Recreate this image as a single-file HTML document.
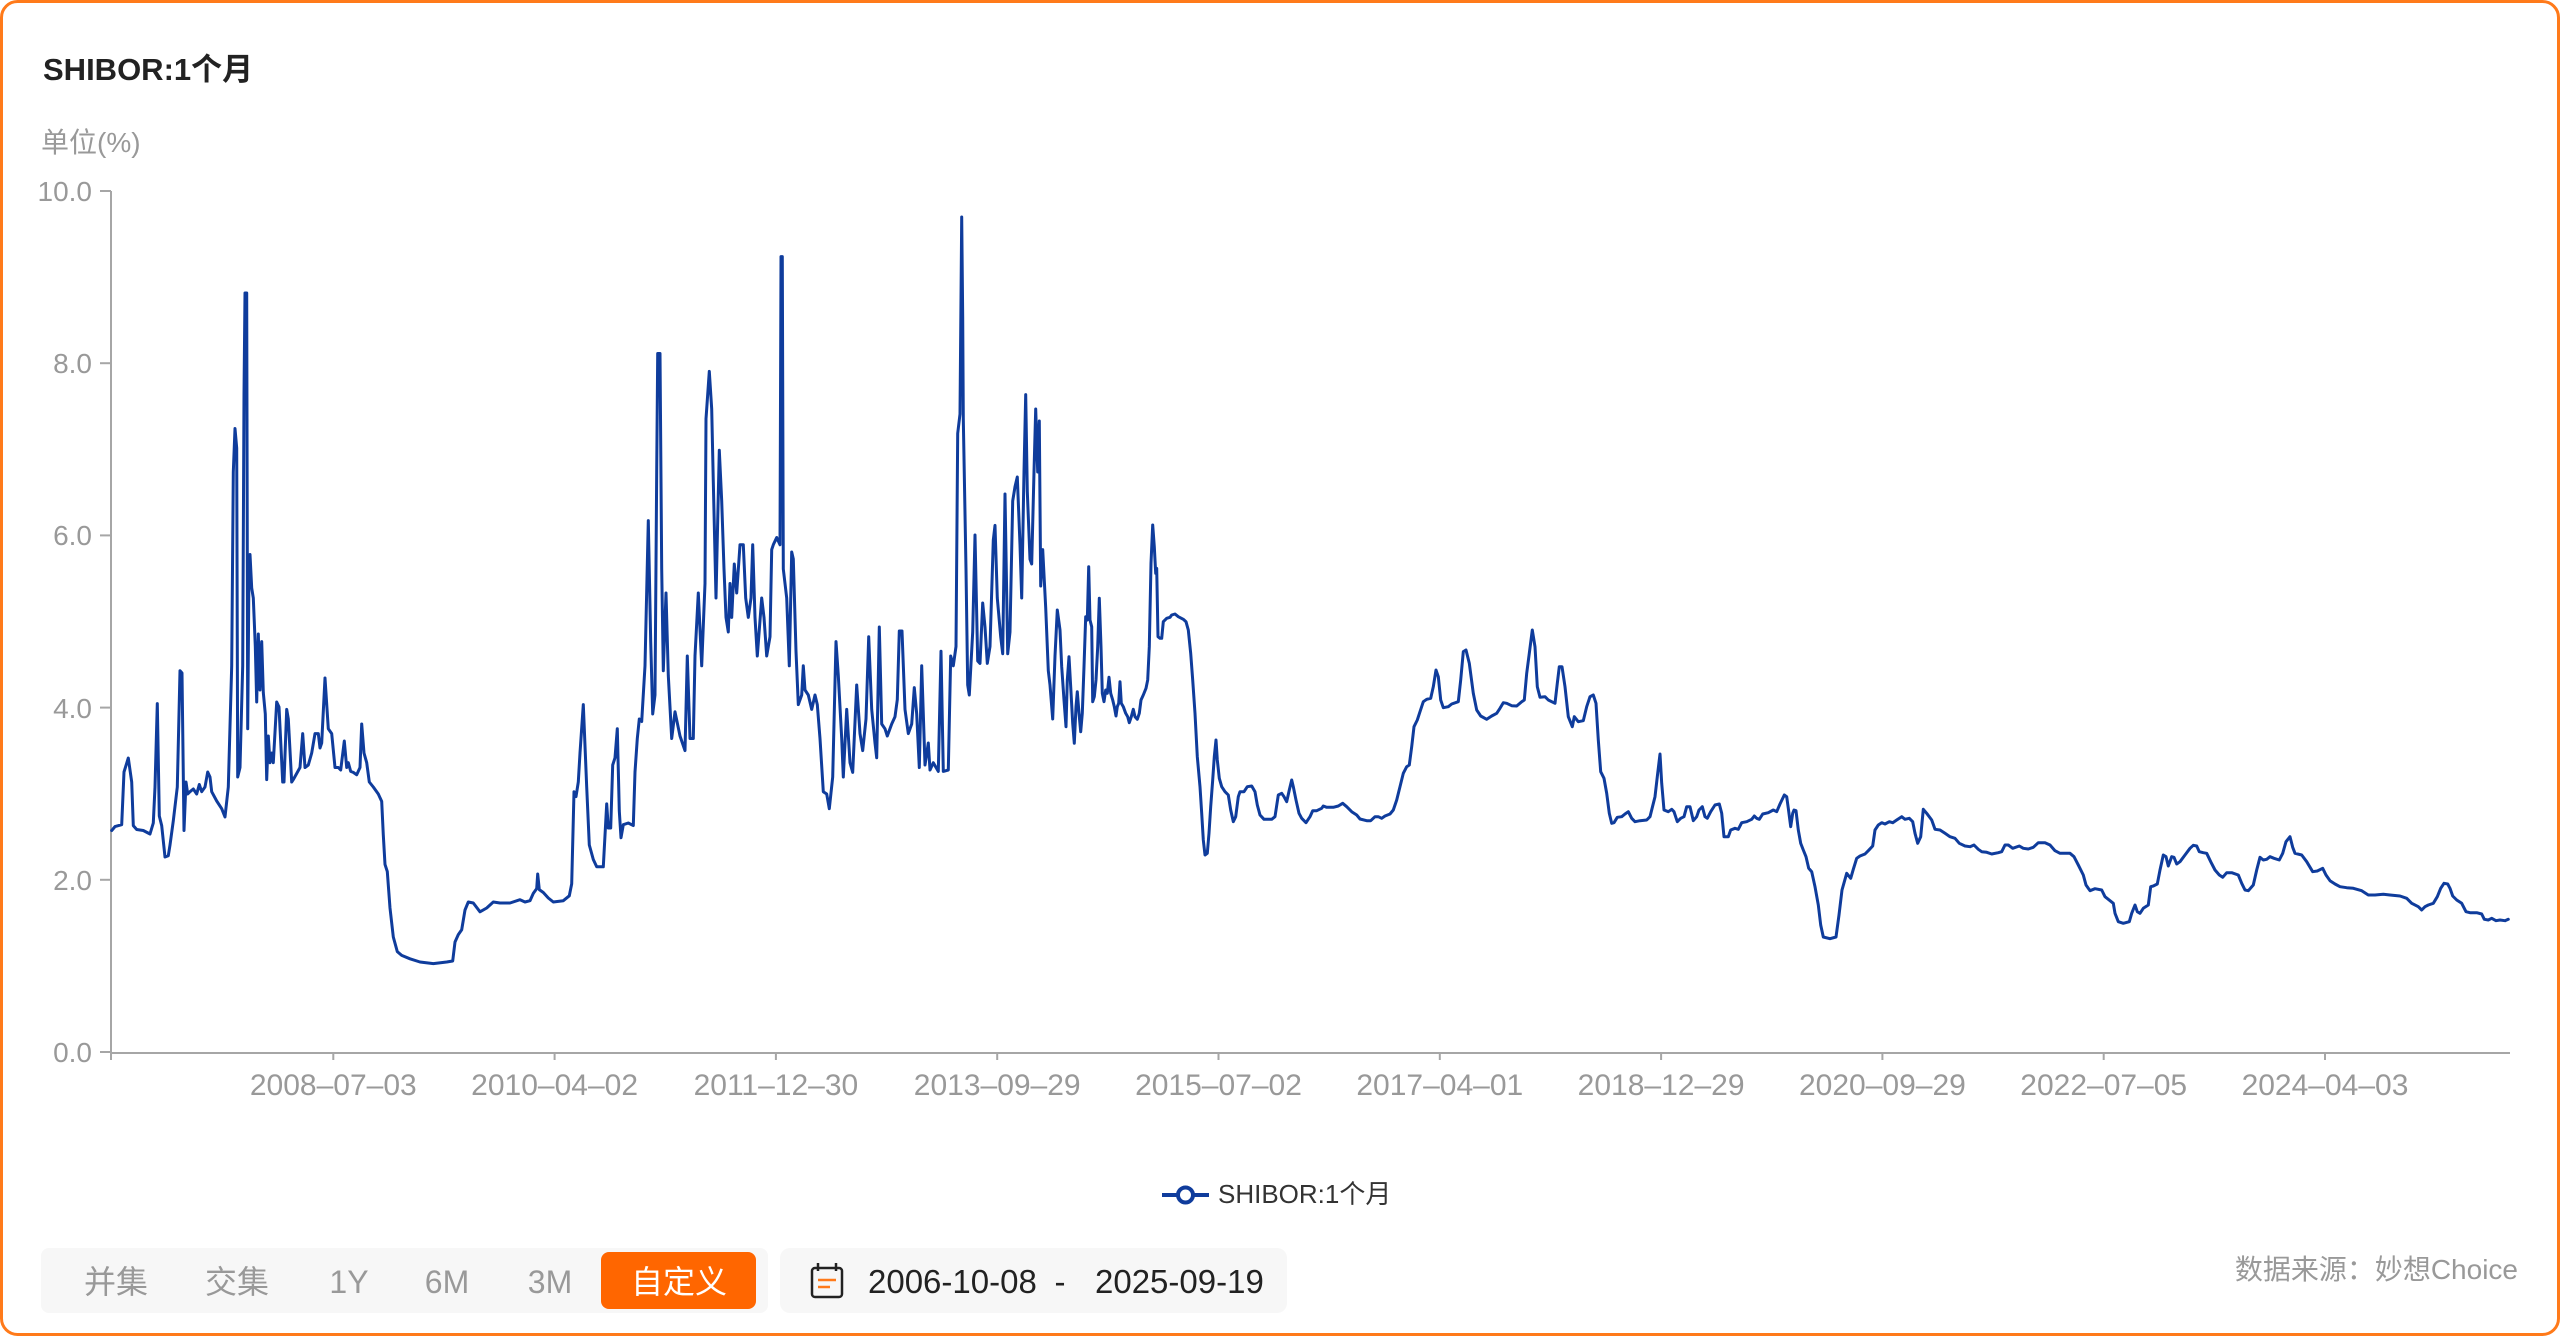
<!DOCTYPE html>
<html>
<head>
<meta charset="utf-8">
<style>
  html, body { margin: 0; padding: 0; background: #ffffff; }
  body { width: 2560px; height: 1336px; overflow: hidden; }
  svg { display: block; }
  text { font-family: "Liberation Sans", "Noto Sans CJK SC", sans-serif; }
</style>
</head>
<body>
<svg width="2560" height="1336" viewBox="0 0 2560 1336" xmlns="http://www.w3.org/2000/svg">
  <!-- outer card -->
  <rect x="1.5" y="1.5" width="2557" height="1333" rx="16" ry="16" fill="#ffffff" stroke="#ff7a1a" stroke-width="3"/>

  <!-- title -->
  <text x="43" y="80" font-size="31" font-weight="bold" fill="#222222">SHIBOR:1个月</text>
  <text x="41" y="152" font-size="28" fill="#999999">单位(%)</text>

  <!-- y axis -->
  <line x1="111" y1="191" x2="111" y2="1053" stroke="#a6a6a6" stroke-width="2"/>
  <g stroke="#a6a6a6" stroke-width="2">
    <line x1="100" y1="191" x2="111" y2="191"/>
    <line x1="100" y1="363.2" x2="111" y2="363.2"/>
    <line x1="100" y1="535.4" x2="111" y2="535.4"/>
    <line x1="100" y1="707.6" x2="111" y2="707.6"/>
    <line x1="100" y1="879.8" x2="111" y2="879.8"/>
    <line x1="100" y1="1052" x2="111" y2="1052"/>
  </g>
  <g font-size="28" fill="#999999" text-anchor="end">
    <text x="92" y="201">10.0</text>
    <text x="92" y="373">8.0</text>
    <text x="92" y="545">6.0</text>
    <text x="92" y="718">4.0</text>
    <text x="92" y="890">2.0</text>
    <text x="92" y="1062">0.0</text>
  </g>

  <!-- x axis -->
  <line x1="110" y1="1053" x2="2510" y2="1053" stroke="#a6a6a6" stroke-width="2"/>
  <g stroke="#a6a6a6" stroke-width="2">
    <line x1="111" y1="1053" x2="111" y2="1060"/>
    <line x1="333.3" y1="1053" x2="333.3" y2="1060"/>
    <line x1="554.6" y1="1053" x2="554.6" y2="1060"/>
    <line x1="775.9" y1="1053" x2="775.9" y2="1060"/>
    <line x1="997.2" y1="1053" x2="997.2" y2="1060"/>
    <line x1="1218.5" y1="1053" x2="1218.5" y2="1060"/>
    <line x1="1439.8" y1="1053" x2="1439.8" y2="1060"/>
    <line x1="1661.1" y1="1053" x2="1661.1" y2="1060"/>
    <line x1="1882.4" y1="1053" x2="1882.4" y2="1060"/>
    <line x1="2103.7" y1="1053" x2="2103.7" y2="1060"/>
    <line x1="2325" y1="1053" x2="2325" y2="1060"/>
  </g>
  <g font-size="30" fill="#999999" text-anchor="middle">
    <text x="333.3" y="1095">2008–07–03</text>
    <text x="554.6" y="1095">2010–04–02</text>
    <text x="775.9" y="1095">2011–12–30</text>
    <text x="997.2" y="1095">2013–09–29</text>
    <text x="1218.5" y="1095">2015–07–02</text>
    <text x="1439.8" y="1095">2017–04–01</text>
    <text x="1661.1" y="1095">2018–12–29</text>
    <text x="1882.4" y="1095">2020–09–29</text>
    <text x="2103.7" y="1095">2022–07–05</text>
    <text x="2325" y="1095">2024–04–03</text>
  </g>

  <!-- series -->
  <polyline fill="none" stroke="#0f3c9c" stroke-width="3" stroke-linejoin="round" stroke-linecap="round" points="
111.7,830.5 115,826.6 121.7,824.7 124,772 128.3,758 131.7,782 133.3,825.6 136.7,829.5 143.3,830.5 150,834 153.3,823 155,787 157.3,703.6 159.3,816 161.7,825.6 165,857 168.3,855.7 170,845 173.3,820.8 177.3,787 180,670.7 182,673 184,830.5 186,782 187.7,794 190,791.7 193.3,789 196.7,794 199.3,784.5 201.7,791.7 205,787 207.7,772 210,777 211.7,791.7 216.7,801 221.7,808.7 225,817 228.3,787 231.7,665.8 233.3,472 235,428.5 236.7,448 237.7,777 240,767.5 242.7,665.8 244,394.6 245,293 246.7,293 247.7,728.8 249,569 250,554.5 251.7,588 253.3,598 255.3,646.5 256.7,702 258.3,634 260,690 261.7,641.6 263.3,692.5 265.3,714 266.7,779.6 268.3,736 270,762.7 271.7,753 273.3,762.7 276.7,702 279,707 282.7,782 284,782 286.7,709.4 288.3,719 291.7,782 293.3,779.6 300,767.5 302.7,733.6 305,767.5 308.3,765 311.7,753 315,733.6 318.3,733.6 320,748 321.7,743 325,678 328.3,728.8 331.7,733.6 335,767.5 338.3,767.5 340.7,770 344.3,741 346.7,767.5 348.3,762.7 350.7,771.4 353.3,772.4 356.7,774.8 360,767.5 361.7,724 364,753 366.7,762.7 369.3,782 373.3,787 378.3,794 381.7,801.4 383.3,835 385,864.4 387.3,871.6 390,908 393.3,937 397.3,951.6 401.7,955.4 410,958.8 420,962 433.3,963.6 446.7,962 452.7,961 455,942 458.3,934.6 461.7,929.8 465,910 468.3,902 473.3,903 480,911.8 486.7,908 493.3,902 500,903 510,903 520,899.7 525,902 530,900.7 533.3,893.4 536.7,888.6 537.7,874 539.3,889.6 543.3,892.5 548.3,898 553.3,902 563.3,900.7 569.3,895.8 571.7,883.8 574,791.7 576,796.6 578.3,782 580,753
583.3,704.6 586.7,787 589.3,845 593.3,859.5 596.7,866.8 603.3,866.8 606.7,803.9 608.3,828 610.7,828 612.7,765 615,757.8 617.3,728.8 619.3,811 621,837.8 623.3,824.7 628.3,823 633.3,825.6 635,772 637.3,738.5 639.3,719 641.7,721.5 645,665.8 648.3,520.6 650.7,641.6 652.7,714 655,695 656.7,472 657.7,353.5 660,353.5 661.7,569 663.3,670.7 666,593 668.3,675.5 671.7,738.5 675,711.8 680,736 685,750.6 687.3,656 690,738.5 693.3,738.5 695,656 698.3,593 701.7,665.8 705,583.5 706,418.9 709.3,371.4 711.7,409 713.3,481.8 716,598 717.7,520.6 719.3,450.3 721.7,501 724,569 726,617.4 728.3,632 730,583.5 731.7,617.4 734.3,564 736.7,593 740,544.8 743.3,544.8 745.7,598 748.3,617.4 751,598 752.7,544.8 755,617.4 757.3,656 761.7,598 764,617.4 766.7,656 770,636.8 771.7,549.6 773.3,544.8 776.7,537.5 780,544.8 781,256.6 782.3,256.6 783.3,569 786.7,598 789.3,665.8 791.7,552 793.3,559 796,651.3 798.3,704.6 801.7,695 803.3,665.8 805,690 808.3,695 811.7,709.4 815,695 817.3,704.6 820,738.5 823.3,791.7 826.7,794 829.3,808.7 832.7,777 836,641.6 838.3,675.5 841.7,738.5 843.3,777 846.7,709.4 850,762.7 852.7,772.4 856.7,685 860,733.6 862.7,750.6 866,719 868.7,636.8 871.7,709.4 875,743 876.7,757.8 879.3,627 881.7,724 885,728.8 887.3,736 891.7,724 895,716.7 897.3,699.7 899.3,631 902,631 905,709.4 908.3,733.6 911.7,724 914.3,687.6 916.7,714 919.3,767.5 921.7,665.8 925,765 928.3,743 930,770 933.3,762.7 938.3,771.4 941,651.3 943.3,771.4 948.3,770 950.7,656 953.3,665.8 956,646.5 957.7,433.4 960,414 961.7,217 962.7,317 963.3,419 966,569 967.7,685 969.3,695 972.7,632 975,535 977.7,661 980,663.4 982.7,603 985,627 987.3,663.4 990,646.5 993.3,540 995,525.4 997.3,598 1000.7,636.8 1002.7,653.7 1005,494 1007.7,653.7 1010,632 1012.7,501 1015,486.7 1017.3,477 1020,544.8 1021.7,598 1024,472 1025.7,394.6 1027.3,491.5 1030,559.3 1031.7,564 1034,472 1035.7,409 1037.7,472 1039.3,421 1040.7,586 1042.7,549.6 1045.7,607.7 1048.3,670.7 1050,685 1052.7,719 1055,656 1057.3,610
1060,630 1061.7,666.7 1064,700 1066,726.7 1067.3,680 1069,656.7 1070.7,686.7 1072.7,723.3 1074.3,743.3 1076,706.7 1077.3,691.7 1079,713.3 1080.7,731.7 1082.3,713.3 1084,666.7 1085.7,616.7 1087.3,620 1088.7,566.7 1090,620 1091.7,626.7 1092.7,701.7 1094.3,696.7 1096,680 1097.7,646.7 1099.3,598.3 1101,646.7 1102.3,693.3 1104,701.7 1105.7,690 1107.3,693.3 1109,677.3 1110.7,693.3 1112.7,700 1114.3,706.7 1116,716 1117.3,706.7 1118.7,703.3 1120,681.7 1121.3,703.3 1123.3,706.7 1125.7,713.3 1127.7,716.7 1129.3,722.7 1131.3,716.7 1133.3,709.3 1135,716.7 1137.3,719.3 1139.3,713.3 1141,700 1143.3,695 1146,688.3 1147.7,680 1149.3,646.7 1151,563.3 1152.7,525 1154.3,546.7 1155.7,573.3 1156.7,568.3 1158,636.7 1160,638.3 1161.7,638.3 1163.3,621.7 1166.7,618.3 1170,617.3 1171.7,615 1175,614 1178.3,616.7 1183.3,619.3 1186,621.7 1188.3,630 1190.7,653.3 1192.7,680 1195,713.3 1197.3,756.7 1200,786.7 1201.7,813.3 1203.3,840 1205,855 1207.3,853.3 1209,833.3 1210.7,806.7 1212.7,780 1214.3,756.7 1216,740 1217.3,760 1219.3,778.3 1221.7,786.7 1225,791.7 1228.3,795 1230.7,810 1233.3,821.7 1235.7,816.7 1238.3,796.7 1240,791.7 1244,791.7 1247.3,786.7 1251.7,786 1255,791.7 1257.3,805 1260,815 1264,819.3 1271.7,819.3 1275,816.7 1278.3,795 1281.7,793.3 1284,796.7 1286.7,801.7 1289.3,790 1291.7,780 1293.3,786.7 1296,800 1299,813.3 1301.7,818.3 1306,822.7 1310,816.7 1312.7,810.7 1316.7,810.7 1321.7,808.3 1323.3,806 1326.7,807.3 1333.3,807.3 1338.3,806 1342.7,803.3 1346.7,806.7 1351.7,811.7 1356.7,815 1360,819 1366.7,820.7 1370.7,820.7 1375,816.7 1378.3,816.7 1381.7,818.3 1385,816 1390,814 1393.3,810 1396.7,800 1400,786.7 1403.3,773.3 1406.7,766.7 1409.3,765 1411.7,746.7 1414,726.7 1417.3,720 1420,711.7 1423.3,701.7 1426.7,699.3 1430.7,698.3 1433.3,686.7 1436,670 1438.3,676.7 1440.7,700 1443.3,707.7 1448.3,706.7 1451.7,704 1458.3,701.7 1460.7,680 1463.3,651.7 1466,650 1469.3,663.3 1473.3,693.3 1476.7,710 1480.7,716 1486.7,719.3 1491.7,716 1496.7,713.3 1500,708.3 1503.3,702.7 1506.7,703.3 1511.7,705.7 1516.7,706 1521.7,701.7 1524.3,700 1526.7,673.3 1529.3,653.3 1532.3,630 1535,646.7 1537.3,686.7 1540,697.3
1545,696.7 1548.3,700 1555,703.3 1557.3,683.3 1559.3,666.7 1562,666.7 1565,686.7 1568.3,716.7 1572.3,726.7 1574.3,716.7 1578.3,721.7 1583.3,720.7 1586.7,706.7 1590,696.7 1593.3,695 1596,703.3 1598.3,740 1600.7,771.7 1604,778.3 1606.7,793.3 1609.3,813.3 1611.7,823.3 1614,822.7 1617.3,817.3 1621.7,816.7 1625,814 1628.3,811.7 1631.7,818.3 1635,821.7 1640,820.7 1646.7,820 1650,816.7 1655,796.7 1657.3,776.7 1660,754 1661.7,783.3 1664,810 1668.3,811.7 1671.7,809.3 1674,811.7 1677.3,821.7 1680.7,818.3 1684,816.7 1686.7,806.7 1690,806.7 1693.3,820.7 1696.7,816.7 1699,810 1702.3,806.7 1705,816.7 1707.3,818.3 1710.7,811.7 1715,805 1719.3,804 1721.7,813.3 1724,836.7 1728.3,836.7 1730.7,830 1735,828.3 1738.3,829.3 1741.7,822.7 1746.7,821.7 1751.7,819.3 1754.3,816 1756.7,818.3 1759.3,819.3 1762.7,814 1768.3,812.7 1773.3,810 1776.7,811.7 1780,804 1784.3,795 1786.7,796.7 1788.3,808.3 1790.7,826.7 1792.7,813.3 1794,810 1796,810.7 1798.3,830 1800.7,843.3 1803.3,850 1806,856.7 1808.7,868.3 1811.7,871.7 1815,886.7 1818.3,905 1820.7,925 1823.3,937 1830,938.7 1836,937 1839,915 1842,890 1846.7,873.3 1850.7,878.3 1853.3,869.3 1856.7,858.3 1860,856 1865,854 1868.3,850.7 1872.7,846 1875,830 1878.3,825 1881.7,822.7 1885,824 1889.3,821.7 1892.7,822.7 1896.7,820 1901.7,816.7 1905,819.3 1909.3,818.3 1912.7,821.7 1915,833.3 1917.7,843.3 1920.7,836.7 1923.3,809.3 1926.7,813.3 1931.7,820 1935,829.3 1940,830 1945,833.3 1950,836.7 1955,838.3 1959.3,843.3 1965,846 1970,846.7 1974,845 1978.3,849.3 1981.7,851.7 1986.7,852.3 1991.7,854 1998.3,852.7 2001.7,851.7 2005,845 2008.3,845 2012.7,848.3 2019.3,846
2023.3,848.3 2028.3,849 2033.3,847.3 2038.3,842.7 2045,842.7 2050,845 2055,850.7 2060,853.3 2070,853.3 2074,856.7 2078.3,865 2083.3,875 2086,885 2090,890.7 2095,888.7 2101.7,890 2105,896.7 2108.3,899.3 2113.3,903.3 2115,913.3 2118.3,921.7 2123.3,923.3 2129.3,921.7 2131.7,913.3 2135,905 2137.3,911.7 2140,913.3 2143.3,908.3 2148.3,905 2150.7,886.7 2153.3,886 2157.3,884 2160,870 2163.3,855 2166,856.7 2168.3,866 2171.7,856.7 2174,857.3 2176.7,864 2180,861.7 2185,855 2190,848.3 2193.3,845.3 2196.7,846 2199.3,851.7 2203.3,852.7 2206.7,853.3 2210.7,861.7 2215,870 2219.3,875 2222.7,877.3 2226.7,872.7 2231.7,872.7 2238.3,875 2241.7,883.3 2245,890 2248.3,890.7 2253.3,885 2256.7,870 2260,857.3 2263.3,860 2266.7,859.3 2270,856.7 2274,858.3 2279.3,860 2282.7,853.3 2286,841.7 2290,836.7 2292.7,847.3 2295,853.3 2301.7,855 2306.7,861.7 2312.7,871.7 2317.3,871 2322.7,868.3 2326,875 2330,880.7 2335,884 2340,886.7 2346.7,887.7 2353.3,888.3 2361.7,890.7 2368.3,895 2375,895 2383.3,894.3 2390,895 2400,896 2406.7,898.3 2411.7,903.3 2418.3,906.7 2421.7,910 2425,906.7 2428.3,905 2433.3,903.3 2437.3,896.7 2440.7,888.3 2444,883.3 2447.7,884 2450,888.3 2452.7,896 2456.7,900 2461.7,903.3 2466,911.7 2470,912.7 2476.7,912.7 2481.7,914 2484.3,919.3 2488.3,920 2491.7,918.3 2496,920.7 2500,920 2505,920.7 2508.3,919.3"/>

  <!-- legend -->
  <line x1="1162" y1="1195" x2="1209" y2="1195" stroke="#0f3c9c" stroke-width="4"/>
  <circle cx="1185.5" cy="1195" r="7.5" fill="#ffffff" stroke="#0f3c9c" stroke-width="4"/>
  <text x="1218" y="1203" font-size="26" fill="#333333">SHIBOR:1个月</text>

  <!-- range buttons -->
  <rect x="41" y="1248" width="727" height="65" rx="8" ry="8" fill="#f7f7f7"/>
  <rect x="601" y="1252" width="155" height="57" rx="8" ry="8" fill="#ff6600"/>
  <g font-size="32" fill="#999999" text-anchor="middle">
    <text x="116" y="1293">并集</text>
    <text x="237" y="1293">交集</text>
    <text x="349" y="1293">1Y</text>
    <text x="447" y="1293">6M</text>
    <text x="550" y="1293">3M</text>
    <text x="679" y="1293" fill="#ffffff">自定义</text>
  </g>

  <!-- date range box -->
  <rect x="780" y="1248" width="507" height="65" rx="10" ry="10" fill="#f7f7f7"/>
  <g>
    <rect x="812" y="1268" width="30" height="29" rx="3" ry="3" fill="none" stroke="#222222" stroke-width="2.5"/>
    <line x1="818" y1="1263" x2="818" y2="1271" stroke="#222222" stroke-width="2.5"/>
    <line x1="836" y1="1263" x2="836" y2="1271" stroke="#222222" stroke-width="2.5"/>
    <line x1="818" y1="1280" x2="836" y2="1280" stroke="#ff7a1a" stroke-width="2.5"/>
    <line x1="818" y1="1287" x2="830" y2="1287" stroke="#ff7a1a" stroke-width="2.5"/>
  </g>
  <g font-size="33" fill="#222222">
    <text x="868" y="1293">2006-10-08</text>
    <text x="1060" y="1293" text-anchor="middle">-</text>
    <text x="1095" y="1293">2025-09-19</text>
  </g>

  <!-- source -->
  <text x="2518" y="1279" font-size="28" fill="#999999" text-anchor="end">数据来源：妙想Choice</text>
</svg>
</body>
</html>
